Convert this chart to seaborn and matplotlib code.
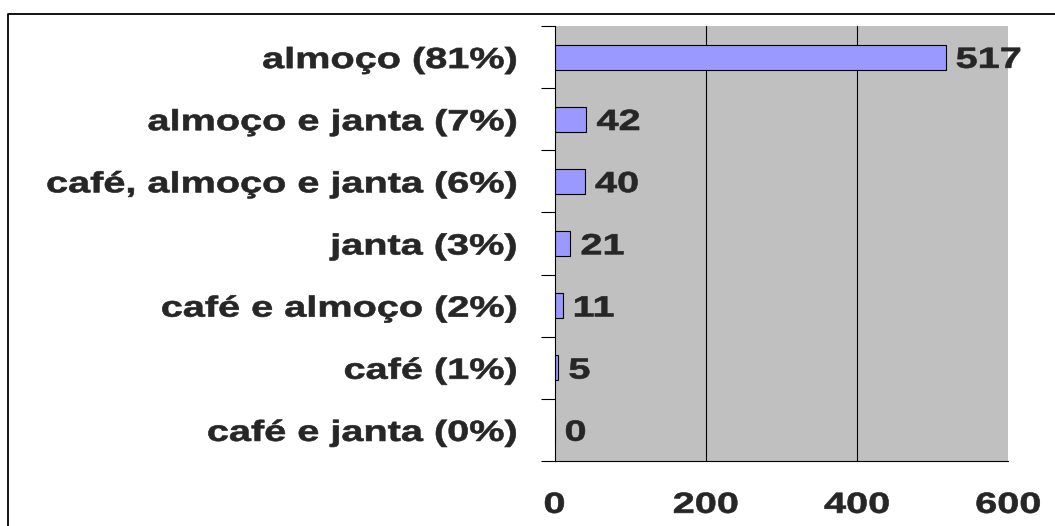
import matplotlib
matplotlib.use("Agg")
import matplotlib.pyplot as plt
from matplotlib.lines import Line2D
from matplotlib.patheffects import AbstractPathEffect
from matplotlib.transforms import Affine2D
import numpy as np
import pandas as pd
import seaborn as sns

# Meals served, with share of the total
categories = [
    "almoço (81%)",
    "almoço e janta (7%)",
    "café, almoço e janta (6%)",
    "janta (3%)",
    "café e almoço (2%)",
    "café (1%)",
    "café e janta (0%)",
]
counts = [517, 42, 40, 21, 11, 5, 0]
x_ticks = [0, 200, 400, 600]

W, H = 1055, 526
FONT_SIZE = 21
STRETCH = 1.36
BAR_COLOR = "#9999FF"
PLOT_BG = "#C0C0C0"


class WideText(AbstractPathEffect):
    """Draw text glyphs widened horizontally about an anchor (0=left, 0.5=centre, 1=right),
    with a light outline in the text colour for a heavier face."""

    def __init__(self, sx=STRETCH, anchor=0.0, outline=0.45):
        super().__init__()
        self.sx = sx
        self.anchor = anchor
        self.outline = outline

    def draw_path(self, renderer, gc, tpath, affine, rgbFace=None):
        ext = tpath.get_extents()
        ax0 = ext.x0 + self.anchor * (ext.x1 - ext.x0)
        widen = Affine2D().translate(-ax0, 0).scale(self.sx, 1).translate(ax0, 0)
        gc0 = renderer.new_gc()
        gc0.copy_properties(gc)
        if rgbFace is not None:
            gc0.set_foreground(rgbFace)
        gc0.set_linewidth(self.outline)
        gc0.set_joinstyle("round")
        renderer.draw_path(gc0, tpath, widen + affine, rgbFace)
        gc0.restore()


sns.set_style("white")
plt.rcParams["font.family"] = ["Liberation Sans", "DejaVu Sans"]
plt.rcParams["font.weight"] = "bold"

df = pd.DataFrame({"refeicao": categories, "total": counts})

fig = plt.figure(figsize=(W / 100, H / 100), dpi=100)
fig.patch.set_facecolor("white")
ax = fig.add_axes([554.5 / W, 65 / H, 453.8 / W, 435 / H])
ax.set_facecolor(PLOT_BG)

sns.barplot(
    data=df, x="total", y="refeicao", orient="h", color=BAR_COLOR,
    saturation=1, edgecolor="black", linewidth=0.8, width=0.4, ax=ax,
)

n = len(categories)
ax.set_xlim(0, 600)
ax.set_ylim(n - 0.5, -0.5)
ax.set_xlabel("")
ax.set_ylabel("")

# x axis: values
ax.set_xticks(x_ticks)
ax.set_xticklabels([str(t) for t in x_ticks], fontsize=FONT_SIZE, fontweight="bold")
ax.tick_params(axis="x", which="major", direction="out", length=6.5, width=0.8,
               color="black", pad=15)

# y axis: separators at category boundaries, labels at category centres
ax.set_yticks(np.arange(n + 1) - 0.5)
ax.set_yticklabels([])
ax.set_yticks(np.arange(n), minor=True)
ax.set_yticklabels(categories, minor=True, fontsize=FONT_SIZE, fontweight="bold")
ax.tick_params(axis="y", which="major", direction="out", length=10, width=0.8,
               color="black", left=True)
ax.tick_params(axis="y", which="minor", length=0, pad=27)

# vertical gridlines
ax.set_axisbelow(True)
ax.xaxis.grid(True, color="black", linewidth=0.8)
gl = ax.xaxis.get_gridlines()
gl[0].set_visible(False)
gl[-1].set_visible(False)

for side in ("top", "right"):
    ax.spines[side].set_visible(False)
for side in ("left", "bottom"):
    ax.spines[side].set_color("black")
    ax.spines[side].set_linewidth(0.8)

# value labels at bar ends
labels = ax.bar_label(ax.containers[0], fmt="%d", padding=7.5,
                      fontsize=FONT_SIZE, fontweight="bold")
for t in labels:
    t.xyann = (7.5, -2.0)
    t.set_path_effects([WideText(anchor=0.0)])
for t in ax.get_yticklabels(minor=True):
    t.set_path_effects([WideText(anchor=1.0)])
for t in ax.get_xticklabels():
    t.set_path_effects([WideText(anchor=0.5)])

# chart frame
fig.add_artist(Line2D([8 / W, 8 / W, 1.02], [-0.02, 1 - 14 / H, 1 - 14 / H],
                      transform=fig.transFigure, color="black", linewidth=1.3))

fig.savefig("out.png", dpi=100)
